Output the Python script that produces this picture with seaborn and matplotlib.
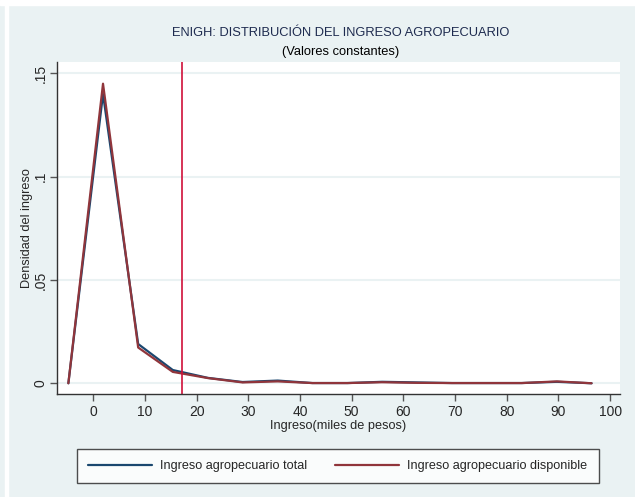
import pandas as pd
import matplotlib.pyplot as plt
import seaborn as sns
from matplotlib.patches import Rectangle
from matplotlib.lines import Line2D

# ingreso (miles de pesos) y densidades
ingreso = [-4.8, 1.9, 8.7, 15.4, 22.2, 28.9, 35.7, 42.4, 49.2, 55.9, 62.7, 69.4, 76.2, 82.9, 89.7, 96.4]
dens_total = [0.0, 0.140, 0.0190, 0.0064, 0.0026, 0.0006, 0.0013, 0.0001, 0.0001, 0.0007, 0.0004, 0.0001, 0.0001, 0.0001, 0.0007, 0.0]
dens_disp = [0.0, 0.145, 0.0173, 0.0055, 0.0025, 0.0004, 0.0009, 0.0001, 0.0001, 0.0005, 0.0002, 0.0001, 0.0001, 0.0001, 0.0009, 0.0]
series = ['Ingreso agropecuario total', 'Ingreso agropecuario disponible']
linea_media = 17.2

xticks = [0, 10, 20, 30, 40, 50, 60, 70, 80, 90, 100]
yticks = [0, 0.05, 0.1, 0.15]
ytick_labels = ['0', '.05', '.1', '.15']

df = pd.DataFrame({
    'x': ingreso + ingreso,
    'y': dens_total + dens_disp,
    'serie': [series[0]] * len(ingreso) + [series[1]] * len(ingreso),
})

bg = '#EAF2F3'
navy = '#1A476F'
maroon = '#90353B'

sns.set_style('white')
plt.rcParams['font.family'] = ['Liberation Sans', 'DejaVu Sans']

fig = plt.figure(figsize=(6.35, 4.97), dpi=100)
fig.patch.set_facecolor(bg)
# thin white strips at top and left like the original export
fig.add_artist(Rectangle((0, 1 - 5 / 497), 1, 5 / 497, transform=fig.transFigure, color='white', zorder=-1))
fig.add_artist(Rectangle((5 / 635, 0), 3 / 635, 1, transform=fig.transFigure, color='white', zorder=-1))

ax = fig.add_axes([57 / 635, 103 / 497, 563 / 635, 332 / 497])
ax.set_facecolor('white')

for yv in yticks:
    ax.axhline(yv, color=bg, lw=1.5, zorder=0)

sns.lineplot(data=df, x='x', y='y', hue='serie', palette=[navy, maroon], lw=1.6, ax=ax, legend=False)
ax.axvline(linea_media, color='#D0103A', lw=1.2)

ax.set_xlim(-7, 101.9)
ax.set_ylim(-0.0052, 0.1555)
ax.set_xticks(xticks)
ax.set_yticks(yticks)
ax.set_yticklabels(ytick_labels, rotation=90, va='center')
ax.tick_params(axis='both', direction='out', length=5, width=1, color='#555555', labelsize=10, pad=3, bottom=True, left=True)
ax.tick_params(axis='y', pad=1.5)

for s in ['top', 'right']:
    ax.spines[s].set_visible(False)
for s in ['left', 'bottom']:
    ax.spines[s].set_color('#333333')
    ax.spines[s].set_linewidth(1)

ax.set_xlabel('Ingreso(miles de pesos)', fontsize=9.2, labelpad=1)
ax.set_ylabel('Densidad del ingreso', fontsize=9.2, labelpad=1)

fig.text(341 / 635, 1 - 33 / 497, 'ENIGH: DISTRIBUCIÓN DEL INGRESO AGROPECUARIO', ha='center', va='center', fontsize=9.3, color='#1E2B4F')
fig.text(341 / 635, 1 - 52 / 497, '(Valores constantes)', ha='center', va='center', fontsize=9.3, color='black')

handles = [Line2D([], [], color=navy, lw=1.6), Line2D([], [], color=maroon, lw=1.6)]
leg = fig.legend(handles, series, loc='center', bbox_to_anchor=(338 / 635, 1 - 466 / 497), ncol=2,
                 fontsize=9.1, frameon=True, fancybox=False, handlelength=5.0, handletextpad=0.7,
                 columnspacing=2.2, borderpad=0.9, borderaxespad=0)
leg.get_frame().set_edgecolor('#222222')
leg.get_frame().set_linewidth(1)
leg.get_frame().set_facecolor('white')

fig.savefig('out.png', dpi=100, facecolor=fig.get_facecolor())
